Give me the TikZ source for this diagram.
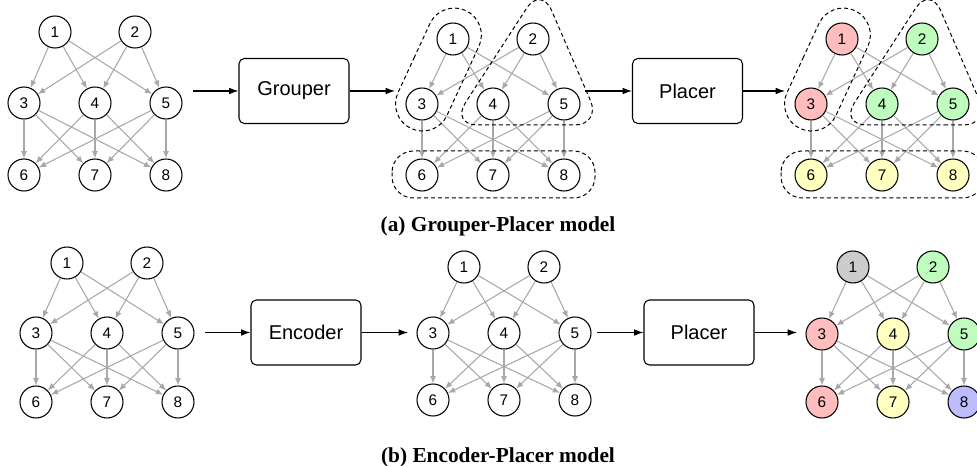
\documentclass[tikz,border=0pt]{standalone}
\usepackage{fontspec}
\setsansfont{Liberation Sans}
\newfontfamily\capfont{Liberation Serif}
\usetikzlibrary{arrows.meta,calc,shapes.misc}

\definecolor{grpred}{HTML}{FFBDBD}
\definecolor{grpgreen}{HTML}{BEFDBE}
\definecolor{grpyellow}{HTML}{FFFFBF}
\definecolor{grpgray}{HTML}{CCCCCC}
\definecolor{grpblue}{HTML}{BDBDFD}
\definecolor{edgegray}{HTML}{A8A8A8}

\tikzset{
  vtx/.style={circle, draw, line width=0.8pt, fill=white, minimum size=24pt, inner sep=0pt,
    font=\sffamily\fontsize{11.5}{12}\selectfont},
  edge/.style={-{Latex[length=5.5pt,width=4.5pt]}, edgegray, line width=0.8pt},
  flow/.style={-{Latex[length=7pt,width=5pt]}, line width=0.8pt},
  stage/.style={draw, rounded corners=4pt, line width=0.8pt, minimum width=82.5pt,
    minimum height=48.75pt, font=\sffamily\fontsize{15}{18}\selectfont},
  grp/.style={dash pattern=on 3pt off 2.2pt, line width=0.75pt},
  % fills of the placed graphs
  c1/.style={fill=grpred}, c3/.style={fill=grpred},
  c2/.style={fill=grpgreen}, c4/.style={fill=grpgreen}, c5/.style={fill=grpgreen},
  c6/.style={fill=grpyellow}, c7/.style={fill=grpyellow}, c8/.style={fill=grpyellow},
  f1/.style={fill=grpgray}, f2/.style={fill=grpgreen}, f3/.style={fill=grpred},
  f4/.style={fill=grpyellow}, f5/.style={fill=grpgreen}, f6/.style={fill=grpred},
  f7/.style={fill=grpyellow}, f8/.style={fill=grpblue}
}

% #1 prefix, (#2,#3) centre node, #4 upper gap, #5 lower gap
\newcommand{\dagnet}[5]{%
  \foreach \n/\dx/\dy in {1/-40/-#4, 2/40/-#4, 3/-71/0, 4/0/0, 5/71/0, 6/-71/#5, 7/0/#5, 8/71/#5}
    \node[vtx, #1\n/.try] (#1\n) at (#2+\dx, #3+\dy) {\n};
  \foreach \s in {1,2} \foreach \t in {3,4,5} \draw[edge] (#1\s) -- (#1\t);
  \foreach \s in {3,4,5} \foreach \t in {6,7,8} \draw[edge] (#1\s) -- (#1\t);
}

% dashed groups {1,3}, {2,4,5}, {6,7,8}
\newcommand{\groupsets}[1]{%
  \node[grp, draw, rounded rectangle, rotate=65.2, minimum width=97.5pt, minimum height=40.5pt,
    inner sep=0pt] (#1cap) at ($(#11)!0.47!(#13)$) {};
  \draw[grp, rounded corners=20pt] ($(#14)!0.5!(#15)+(0,21)$) -- ($(#15)+(37,21)$)
    -- ($(#12)+(8,-53)$) -- ($(#14)+(-42,21)$) -- cycle;
  \draw[grp, rounded corners=16pt] ($(#16)+(-30,-24)$) rectangle ($(#18)+(31,23)$);
}

\begin{document}
\begin{tikzpicture}[x=0.75pt,y=-0.75pt]
\useasboundingbox (0,0) rectangle (977,466);

% (a) grouper-placer
\dagnet{a}{95}{103}{71}{72}
\dagnet{b}{493}{104}{65}{71}
\dagnet{c}{882}{104}{65}{71}
\groupsets{b}
\groupsets{c}

\node[stage] (grouper) at (294,91) {Grouper};
\node[stage] (placera) at (687.5,91) {Placer};
\coordinate (gin) at (193,91);
\coordinate (gout) at (395,91);
\coordinate (pain) at (585,91);
\coordinate (paout) at (785,91);
\draw[flow] (gin) -- (grouper);
\draw[flow] (grouper) -- (gout);
\draw[flow] (pain) -- (placera);
\draw[flow] (placera) -- (paout);

\node[font=\capfont\bfseries\fontsize{16}{18}\selectfont, anchor=base] (capa) at (498,232)
  {(a) Grouper-Placer model};

% (b) encoder-placer
\dagnet{d}{107}{333}{70}{69}
\dagnet{e}{504}{333}{66}{67}
\dagnet{f}{893}{334}{67}{68}

\node[stage] (encoder) at (306,332.5) {Encoder};
\node[stage] (placerb) at (699,332.5) {Placer};
\coordinate (ein) at (205,332.5);
\coordinate (eout) at (408,332.5);
\coordinate (pbin) at (597,332.5);
\coordinate (pbout) at (797,332.5);
\draw[flow] (ein) -- (encoder);
\draw[flow] (encoder) -- (eout);
\draw[flow] (pbin) -- (placerb);
\draw[flow] (placerb) -- (pbout);

\node[font=\capfont\bfseries\fontsize{16}{18}\selectfont, anchor=base] (capb) at (498,462)
  {(b) Encoder-Placer model};
\end{tikzpicture}
\end{document}
